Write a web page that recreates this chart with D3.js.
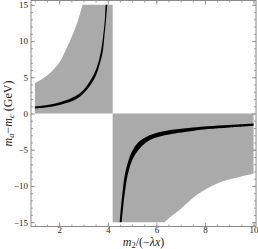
<!DOCTYPE html>
<html>
<head>
<meta charset="utf-8">
<script src="https://cdn.jsdelivr.net/npm/d3@7"></script>
<style>
  body { margin: 0; background: #fff; }
  svg text { font-family: "Liberation Serif", "DejaVu Serif", serif; fill: #222; }
</style>
</head>
<body>
<div id="chart"><svg></svg></div>
<script>

var width = 258,
    height = 249;

// Edges of the allowed (gray) regions.
var leftBoundary = [[1.0, 4.22], [1.33, 4.83], [1.74, 5.97], [2.02, 7.1], [2.30, 8.97],
    [2.57, 11.0], [2.78, 12.9], [2.96, 15.0]];
var rightBoundary = [[6.34, -15.0], [6.61, -14.2], [7.02, -13.1], [7.58, -11.45], [8.12, -10.3],
    [8.81, -9.3], [9.5, -8.7], [10.0, -8.33]];
var regionSplit = 4.2;

// Black bands: outer and inner edges of each branch.
var bandUpperOuter = [[1.0, 0.98], [1.5, 1.18], [1.88, 1.42], [2.3, 1.85], [2.71, 2.5], [3.0, 3.25],
    [3.26, 4.45], [3.45, 5.6], [3.6, 6.9], [3.74, 9.0], [3.82, 11.0], [3.88, 13.0], [3.91, 15.0]];
var bandUpperInner = [[1.0, 0.68], [1.5, 0.86], [1.88, 1.08], [2.3, 1.45], [2.71, 2.0], [3.0, 2.75],
    [3.26, 3.8], [3.48, 5.0], [3.64, 6.5], [3.79, 8.5], [3.87, 11.0], [3.93, 13.0], [3.98, 15.0]];
var bandLowerOuter = [[4.49, -15.0], [4.54, -13.0], [4.62, -10.5], [4.7, -8.5], [4.85, -6.5], [5.0, -5.2],
    [5.25, -4.0], [5.6, -3.2], [6.1, -2.6], [6.75, -2.2], [7.5, -1.92], [8.12, -1.75], [9.0, -1.58], [10.0, -1.38]];
var bandLowerInner = [[4.57, -15.0], [4.63, -13.0], [4.72, -10.5], [4.82, -8.5], [5.0, -6.5], [5.2, -5.3],
    [5.5, -4.2], [5.85, -3.5], [6.3, -3.05], [6.75, -2.75], [7.5, -2.4], [8.12, -2.15], [9.0, -1.92], [10.0, -1.68]];

var xMajor = [2, 4, 6, 8, 10];
var xMinor = d3.range(1, 10.01, 0.5);
var yMajor = [-15, -10, -5, 0, 5, 10, 15];
var yMinor = d3.range(-15, 15.01, 1);

var frame = {left: 31, right: 256, top: 0.5, bottom: 226.5};

var x = d3.scaleLinear().domain([0.84, 10.1]).range([frame.left, frame.right]);
var y = d3.scaleLinear().domain([-15.6, 15.6]).range([frame.bottom, frame.top]);

var svg = d3.select("#chart svg")
    .attr("width", width)
    .attr("height", height);

var smooth = d3.line()
    .x(function(d) { return x(d[0]); })
    .y(function(d) { return y(d[1]); })
    .curve(d3.curveCatmullRom);

// Continue a path with a smooth segment (drop the leading move-to).
function seg(points) {
    return "L" + smooth(points).slice(1);
}
function pt(p) {
    return x(p[0]) + "," + y(p[1]);
}

// Gray regions.
svg.append("path")
    .attr("d", "M" + pt([1.0, 0]) + seg(leftBoundary) + "L" + pt([regionSplit, 15]) + "L" + pt([regionSplit, 0]) + "Z")
    .attr("fill", "#aaaaaa");
svg.append("path")
    .attr("d", "M" + pt([regionSplit, 0]) + "L" + pt([regionSplit, -15]) + seg(rightBoundary) + "L" + pt([10.0, 0]) + "Z")
    .attr("fill", "#aaaaaa");

// Black bands.
function band(outer, inner) {
    return "M" + pt(outer[0]) + seg(outer) + seg(inner.slice().reverse()) + "Z";
}
svg.append("path").attr("d", band(bandUpperOuter, bandUpperInner)).attr("fill", "#000");
svg.append("path").attr("d", band(bandLowerOuter, bandLowerInner)).attr("fill", "#000");

// Frame ticks, all pointing inward.
function addAxis(axis, tx, ty) {
    var g = svg.append("g").attr("transform", "translate(" + tx + "," + ty + ")").call(axis);
    g.select(".domain").remove();
    g.selectAll("line").attr("stroke", "#8a8a8a").attr("stroke-width", 0.8);
    g.selectAll("text").attr("font-size", 9).attr("fill", "#222");
    return g;
}

addAxis(d3.axisBottom(x).tickValues(xMinor).tickSize(-2).tickFormat(""), 0, frame.bottom);
addAxis(d3.axisBottom(x).tickValues(xMajor).tickSize(-4).tickPadding(0), 0, frame.bottom);
addAxis(d3.axisTop(x).tickValues(xMinor).tickSize(-2).tickFormat(""), 0, frame.top);
addAxis(d3.axisTop(x).tickValues(xMajor).tickSize(-4).tickFormat(""), 0, frame.top);

var fmt = function(d) { return d < 0 ? "\u2212" + Math.abs(d) : "" + d; };
addAxis(d3.axisLeft(y).tickValues(yMinor).tickSize(-2).tickFormat(""), frame.left, 0);
addAxis(d3.axisLeft(y).tickValues(yMajor).tickSize(-4).tickPadding(3).tickFormat(fmt), frame.left, 0);
addAxis(d3.axisRight(y).tickValues(yMinor).tickSize(-2).tickFormat(""), frame.right, 0);
addAxis(d3.axisRight(y).tickValues(yMajor).tickSize(-4).tickFormat(""), frame.right, 0);

svg.append("rect")
    .attr("x", frame.left)
    .attr("y", frame.top)
    .attr("width", frame.right - frame.left)
    .attr("height", frame.bottom - frame.top)
    .attr("fill", "none")
    .attr("stroke", "#8a8a8a")
    .attr("stroke-width", 1);

// Axis labels.
var xl = svg.append("text")
    .attr("x", (frame.left + frame.right) / 2)
    .attr("y", 246)
    .attr("text-anchor", "middle")
    .attr("font-size", 12);
xl.append("tspan").attr("font-style", "italic").text("m");
xl.append("tspan").attr("font-size", 8.5).attr("dy", 2).text("2");
xl.append("tspan").attr("dy", -2).text("/(\u2212");
xl.append("tspan").attr("font-style", "italic").text("\u03bbx");
xl.append("tspan").text(")");

var yl = svg.append("text")
    .attr("transform", "translate(11.5," + y(0) + ") rotate(-90)")
    .attr("text-anchor", "middle")
    .attr("font-size", 12);
yl.append("tspan").attr("font-style", "italic").text("m");
yl.append("tspan").attr("font-size", 8.5).attr("font-style", "italic").attr("dy", 2).text("a");
yl.append("tspan").attr("dy", -2).text("\u2212");
yl.append("tspan").attr("font-style", "italic").text("m");
yl.append("tspan").attr("font-size", 8.5).attr("font-style", "italic").attr("dy", 2).text("c");
yl.append("tspan").attr("dy", -2).text(" (GeV)");

</script>
</body>
</html>
